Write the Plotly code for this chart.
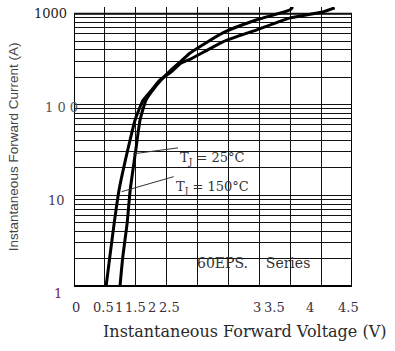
import math
import plotly.graph_objects as go

# ---- data ----
v_25 = [0.745, 0.79, 0.86, 0.91, 1.00, 1.07, 1.165, 1.26, 1.42, 1.57, 1.73, 1.88, 2.41, 2.96, 3.50, 3.54]
i_25 = [1, 2.1, 4.9, 11.5, 31.6, 68, 112, 140, 190, 240, 300, 370, 617, 859, 1107, 1195]

v_150 = [0.52, 0.58, 0.65, 0.73, 0.87, 0.99, 1.12, 1.24, 1.39, 1.56, 1.73, 1.90, 2.41, 2.96, 3.50, 4.03, 4.22]
i_150 = [1, 2.1, 4.9, 11.5, 31.6, 68, 112, 140, 186, 225, 285, 320, 491, 666, 903, 1050, 1165]

x_tick_labels = ["0", "0.5", "1", "1.5", "2", "2.5", "3", "3.5", "4", "4.5"]
x_tick_label_pos = [0.03, 0.47, 0.73, 0.99, 1.26, 1.55, 2.96, 3.25, 3.82, 4.45]

y_tick_labels = ["1000", "1 0 0", "10", "1"]
y_tick_values = [1000, 100, 10, 1]

x_title = "Instantaneous Forward Voltage (V)"
y_title = "Instantaneous Forward Current (A)"
series_note = "60EPS.\u00a0\u00a0\u00a0\u00a0Series"

YMAX_LOG = 3.075
top_frac = 3 / YMAX_LOG

fig = go.Figure()
fig.add_trace(go.Scatter(x=v_25, y=i_25, mode="lines",
                         line=dict(color="black", width=3, shape="spline", smoothing=0.5),
                         name="TJ = 25°C", showlegend=False))
fig.add_trace(go.Scatter(x=v_150, y=i_150, mode="lines",
                         line=dict(color="black", width=3, shape="spline", smoothing=0.5),
                         name="TJ = 150°C", showlegend=False))

serif = "DejaVu Serif"
ann = []
# x tick labels
for lab, pos in zip(x_tick_labels, x_tick_label_pos):
    ann.append(dict(x=pos, y=0, xref="x", yref="paper", text=lab, showarrow=False,
                    xanchor="center", yanchor="middle", yshift=-21,
                    font=dict(family=serif, size=13, color="#3a3040")))
# y tick labels
y_shift = {1000: 0, 100: -3, 10: -5, 1: -7}
x_shift = {1000: -5, 100: 6, 10: -7, 1: -10}
y_col = {1000: "#222222", 100: "#555555", 10: "#4a3a4a", 1: "#7a2050"}
for lab, val in zip(y_tick_labels, y_tick_values):
    ann.append(dict(x=0, y=math.log10(val), xref="paper", yref="y", text=lab, showarrow=False,
                    xanchor="right", yanchor="middle", xshift=x_shift[val], yshift=y_shift[val],
                    font=dict(family=serif, size=13, color=y_col[val])))
# axis titles
ann.append(dict(x=0.615, y=0, xref="paper", yref="paper", text=x_title, showarrow=False,
                xanchor="center", yanchor="middle", yshift=-45,
                font=dict(family=serif, size=16, color="#2a2a2a")))
ann.append(dict(x=-0.219, y=0.498, xref="paper", yref="paper", text=y_title, showarrow=False,
                textangle=-90, xanchor="center", yanchor="middle",
                font=dict(family="Liberation Sans", size=13.5, color="#444444")))
# curve labels with leader lines (head on curve, text at tail)
ann.append(dict(x=0.955, y=math.log10(28.6), xref="x", yref="y", text="T<sub>J</sub> = 25°C",
                showarrow=True, arrowhead=0, arrowwidth=1, arrowcolor="#333333", ax=45, ay=-6,
                standoff=0, xanchor="left", yanchor="top",
                font=dict(family=serif, size=13, color="#333333")))
ann.append(dict(x=0.772, y=math.log10(10.96), xref="x", yref="y", text="T<sub>J</sub> = 150°C",
                showarrow=True, arrowhead=0, arrowwidth=1, arrowcolor="#333333", ax=52, ay=-15,
                standoff=0, xanchor="left", yanchor="top",
                font=dict(family=serif, size=13, color="#333333")))
ann.append(dict(x=1.959, y=0.254, xref="x", yref="y", text=series_note, showarrow=False,
                xanchor="left", yanchor="middle", font=dict(family=serif, size=14, color="#333333")))

shapes = [
    # hide grid overshoot above 1000 A (curves still drawn on top)
    dict(type="rect", xref="paper", yref="paper", x0=0, x1=1, y0=top_frac + 0.002, y1=1,
         fillcolor="white", line=dict(width=0), layer="between"),
    # plot frame
    dict(type="rect", xref="x", yref="paper", x0=0, x1=4.5, y0=0, y1=top_frac,
         fillcolor="rgba(0,0,0,0)", line=dict(color="black", width=2), layer="between"),
]

fig.update_layout(
    width=395, height=351,
    margin=dict(l=74, r=43, t=7, b=65),
    paper_bgcolor="white", plot_bgcolor="white",
    showlegend=False,
    annotations=ann, shapes=shapes,
    xaxis=dict(range=[0, 4.5], tick0=0, dtick=0.5, showgrid=True, gridcolor="#111111", gridwidth=1,
               showticklabels=False, ticks="", zeroline=False, showline=False, fixedrange=True),
    yaxis=dict(type="log", range=[0, YMAX_LOG], dtick=1, showgrid=True, gridcolor="#111111", gridwidth=1,
               minor=dict(dtick="D1", showgrid=True, gridcolor="#111111", gridwidth=1, ticks=""),
               showticklabels=False, ticks="", zeroline=False, showline=False, fixedrange=True),
)

fig.write_html("out.html")
